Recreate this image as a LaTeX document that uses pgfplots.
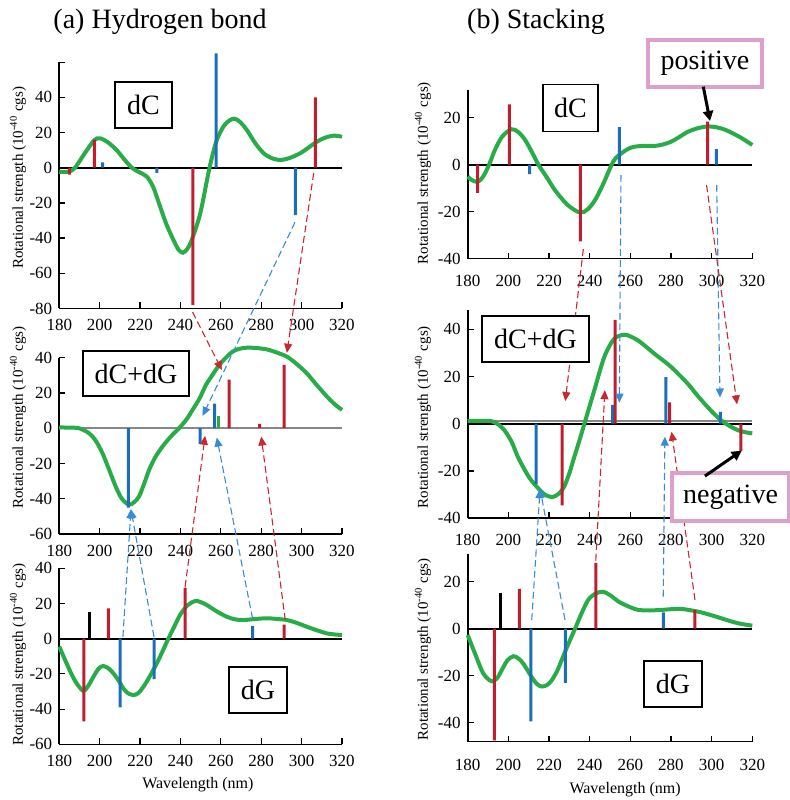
\documentclass[border=0pt]{standalone}
\usepackage{fontspec}
\setmainfont{Liberation Serif}
\usepackage{pgfplots}
\pgfplotsset{compat=1.18}
\usetikzlibrary{arrows.meta}

\definecolor{cred}{RGB}{190,30,45}
\definecolor{cblue}{RGB}{28,110,185}
\definecolor{cdblue}{RGB}{55,140,215}
\definecolor{cdred}{RGB}{200,40,50}
\definecolor{cgreen}{RGB}{40,172,72}
\definecolor{cpink}{RGB}{220,160,202}
\definecolor{cgray}{RGB}{135,135,135}

\pgfplotsset{
  cd/.style={
    scale only axis, anchor=south west,
    xmin=180, xmax=320,
    axis x line*=bottom, axis y line*=left,
    axis line style={-, line width=0.8pt},
    tick align=inside, major tick length=3pt,
    tick style={line width=0.6pt, black},
    xtick={180,200,...,320},
    clip=false,
    tick label style={font=\fontsize{8.5}{9}\selectfont},
    /pgf/number format/assume math mode=true,
    ylabel={Rotational strength (10\textsuperscript{-40} cgs)},
    ylabel style={font=\fontsize{7.5}{8}\selectfont, anchor=center, rotate=0},
  },
  curve/.style={cgreen, line width=2pt, smooth, no marks},
  stk/.style={ybar, bar width=1.5pt, bar shift=0pt, draw=none, fill=#1},
  zl/.style={no marks, line width=1pt, #1},
}
\tikzset{
  darr/.style={dash pattern=on 3.5pt off 1.8pt, line width=0.55pt, -{Triangle[length=4.5pt,width=4pt]}},
  lab/.style={draw, fill=white, line width=0.6pt, inner sep=0pt, font=\fontsize{14}{14}\selectfont},
}

\begin{document}
\begin{tikzpicture}
\useasboundingbox (0,0) rectangle (395pt,400pt);

% ---------- (a) Hydrogen bond: dC
\begin{axis}[cd, at={(29.65pt,245.75pt)}, width=141.35pt, height=123.2pt,
  ymin=-80, ymax=60, ytick={-80,-60,...,60},
  yticklabels={-80,-60,-40,-20,0,20,40,{}},
  xticklabel style={yshift=-2pt},
  ylabel style={at={(axis description cs:-0.146,0.53)}}]
\addplot[zl=black] coordinates {(180,0) (320,0)};
\addplot[curve] coordinates {
(180,-2.3)(184.5,-2.3)(187.8,0)(192.6,8.2)(197.4,15.7)(200.2,16.7)(204,14.5)
(208.4,10)(212,5)(215.9,0)(219.5,-2.5)(223.3,-5)(226.5,-11)(229.9,-22)
(233,-32)(236.5,-41)(239,-46.5)(241.2,-48.3)(243.5,-46)(245.6,-41)(249.8,-26)
(254.4,0)(258,15.7)(262,24.5)(266.3,27.9)(269.5,26)(272.9,21.4)(277,14)
(281.2,8.2)(285,5.5)(289.4,4.4)(294,5.5)(299.3,8.2)(303.5,11.5)(307.6,14.8)
(311.5,17)(315.9,18.2)(320,17.6)};
\addplot[stk=cred] coordinates {(185,-4)(197.4,16)(246.1,-78)(306.8,40)};
\addplot[stk=cblue] coordinates {(201.4,3)(228.3,-3)(257.7,65)(296.9,-27)};
\coordinate (r1s) at (axis cs:246,-82);
\coordinate (b1s) at (axis cs:296.7,-31);
\coordinate (r2s) at (axis cs:306,-3);
\end{axis}

% ---------- (a) dC+dG
\begin{axis}[cd, at={(29.65pt,133pt)}, width=141.35pt, height=88.15pt,
  ymin=-60, ymax=40, ytick={-60,-40,...,40},
  xticklabel style={yshift=-2pt},
  ylabel style={at={(axis description cs:-0.146,0.66)}}]
\addplot[zl=cgray] coordinates {(180,0) (320,0)};
\addplot[curve] coordinates {
(180,0.5)(185,0.3)(189.7,0)(194.7,-2.8)(198,-7)(201.3,-14)(204.5,-23)
(207.9,-33)(211,-40)(214.5,-43.4)(217,-42)(219.5,-38.7)(222,-31.5)(224.5,-23.6)
(227.5,-16.5)(231.1,-10.4)(235,-5)(239.3,0)(243,5)(246,10.4)(249.5,17)
(252.6,24.5)(256,30.5)(259.2,35.8)(262.5,40)(265.8,43.4)(269,45)(272.9,45.7)
(277.5,45.5)(282.8,44.7)(287.5,43)(292.7,40.6)(297.5,36.5)(302.6,31.1)
(307.5,24.5)(312.6,17.9)(316.5,13.5)(320,10.4)};
\addplot[stk=cblue] coordinates {(214.2,-45)(249.8,-9)(256.9,14)};
\addplot[stk=cgreen] coordinates {(258.9,7)};
\addplot[stk=cred] coordinates {(264.1,27.5)(279.2,2.5)(291.4,36)};
\coordinate (r1e) at (axis cs:260.5,33);
\coordinate (b1e) at (axis cs:251,7);
\coordinate (r2e) at (axis cs:292.7,42.8);
\coordinate (b2e) at (axis cs:215.5,-46);
\coordinate (r3e) at (axis cs:252.2,-4.3);
\coordinate (b4e) at (axis cs:258,-5.3);
\coordinate (r4e) at (axis cs:280,-4.7);
\end{axis}

% ---------- (a) dG
\begin{axis}[cd, at={(29.65pt,27.85pt)}, width=141.35pt, height=88pt,
  ymin=-60, ymax=40, ytick={-60,-40,...,40},
  xticklabel style={yshift=-2pt},
  ylabel style={at={(axis description cs:-0.146,0.51)}},
  xlabel={Wavelength (nm)},
  xlabel style={font=\fontsize{8}{9}\selectfont, at={(axis description cs:0.49,-0.231)}, anchor=center}]
\addplot[zl=black] coordinates {(180,0) (320,0)};
\addplot[curve] coordinates {
(180,-4.5)(183.6,-14)(186,-20)(188.6,-25.4)(191.9,-29.6)(194.5,-26.5)
(196.9,-21.6)(199.5,-17)(201.8,-15.5)(204.5,-17)(206.8,-19.7)(209.5,-24)
(211.7,-28.2)(214,-31)(216.7,-32)(219,-31)(221.7,-27.3)(225,-21)(228.3,-14)
(231,-7.5)(234,0)(237,7)(239.8,13.5)(243.5,19)(247.3,21.4)(250,20.8)
(253.1,19.1)(258,15.5)(262.9,12.5)(267,11)(271.2,10.6)(277,11.2)(282.8,11.6)
(288,11.2)(292.7,10.6)(297.5,9)(302.6,6.8)(307.5,4.8)(312.6,3)(316.5,2.4)(320,2.1)};
\addplot[stk=cred] coordinates {(192.2,-47)(204.3,17.3)(242.3,29)(291.4,8)};
\addplot[stk=black] coordinates {(194.9,15.2)};
\addplot[stk=cblue] coordinates {(210.1,-39)(226.9,-23)(275.7,7.2)};
\coordinate (b2s) at (axis cs:211.5,1);
\coordinate (b3s) at (axis cs:226.9,1);
\coordinate (r3s) at (axis cs:242.3,29.5);
\coordinate (b4s) at (axis cs:275.7,11.5);
\coordinate (r4s) at (axis cs:291.9,10.6);
\end{axis}

% ---------- (b) Stacking: dC
\begin{axis}[cd, at={(233.85pt,270.65pt)}, width=142.3pt, height=84.6pt,
  ymin=-40, ymax=32, ytick={-40,-20,0,20},
  xticklabel style={yshift=-4.5pt},
  ylabel style={at={(axis description cs:-0.157,0.506)}}]
\addplot[zl=black] coordinates {(180,0) (320,0)};
\addplot[curve] coordinates {
(180,-5.1)(182,-6.5)(184.4,-7.3)(186.5,-6.3)(188.5,-3.7)(191,1)(193.4,6.3)
(197,12)(201.6,15.1)(205,13.8)(208.2,10.6)(211.5,5.5)(214.8,0)(219,-5.5)
(223,-10.9)(229,-17)(235.2,-20.4)(239,-19)(242.6,-15.1)(246.5,-8.5)(250.8,0)
(253,3)(255.7,4.9)(259,6.8)(262.3,7.7)(267,8)(272.1,8)(276,8.6)(280.3,9.9)
(284.5,12)(288.5,14.1)(293.5,15.6)(298.4,16.3)(302.5,15.9)(306.6,14.9)
(310.5,13.3)(314.8,11.3)(320,8.4)};
\addplot[stk=cred] coordinates {(184.9,-12)(200.5,25.7)(235.4,-32.6)(298,18.3)};
\addplot[stk=cblue] coordinates {(210.5,-4)(254.6,16)(302.3,6.6)};
\coordinate (r5s) at (axis cs:236.9,-35.9);
\coordinate (b5s) at (axis cs:255.4,-4.4);
\coordinate (b6s) at (axis cs:302.5,-8.7);
\coordinate (r6s) at (axis cs:297.5,-8.7);
\coordinate (ps) at (axis cs:295.9,33.2);
\coordinate (pe) at (axis cs:299.2,18.6);
\end{axis}

% ---------- (b) dC+dG
\begin{axis}[cd, at={(233.85pt,140.95pt)}, width=142.3pt, height=103.85pt,
  ymin=-40, ymax=48, ytick={-40,-20,...,40},
  xticklabel style={yshift=-4.5pt},
  ylabel style={at={(axis description cs:-0.157,0.486)}}]
\addplot[zl=cgray] coordinates {(180,1.2) (320,1.2)};
\addplot[zl=black] coordinates {(180,0) (320,0)};
\addplot[curve] coordinates {
(180,1.1)(185,1.2)(191.5,1.1)(195,-0.3)(198,-2.7)(201.5,-7.5)(204.6,-13.9)
(208,-19.5)(211.1,-23.8)(216.1,-28.7)(218.5,-30.3)(221.8,-31.1)(225,-29.5)
(227.5,-26.6)(230,-21)(232.5,-13.9)(235,-7)(237.4,0)(242.3,14.2)(247.2,28.3)
(252.1,36)(257,37.7)(260,37)(263.6,35.4)(267.5,32.8)(271.8,29.7)(280,24.1)
(288.2,17)(292,13)(296.4,8.6)(300.5,4.8)(304.6,1.5)(308.5,-0.8)(312.8,-2.7)
(316.5,-3.6)(320,-4.1)};
\addplot[stk=cblue] coordinates {(213.6,-25.5)(251.3,8)(277.5,19.7)(304.3,5)};
\addplot[stk=cred] coordinates {(226.4,-34.6)(252.5,44)(279.3,9)(314.4,-11.5)};
\coordinate (r5e) at (axis cs:228,9.6);
\coordinate (b5e) at (axis cs:254.6,8.9);
\coordinate (b6e) at (axis cs:304.1,11.1);
\coordinate (r6e) at (axis cs:312.5,8.2);
\coordinate (b7e) at (axis cs:215.6,-27.7);
\coordinate (r7e) at (axis cs:247.5,14.2);
\coordinate (b9e) at (axis cs:277,-5.5);
\coordinate (r8e) at (axis cs:280.3,-3.4);
\coordinate (ns) at (axis cs:296.7,-22.2);
\coordinate (ne) at (axis cs:314.8,-11.4);
\end{axis}

% ---------- (b) dG
\begin{axis}[cd, at={(233.85pt,29.25pt)}, width=142.3pt, height=94pt,
  ymin=-48, ymax=32, ytick={-40,-20,0,20},
  xticklabel style={yshift=-5.5pt},
  ylabel style={at={(axis description cs:-0.157,0.49)}},
  xlabel={Wavelength (nm)},
  xlabel style={font=\fontsize{8}{9}\selectfont, at={(axis description cs:0.553,-0.254)}, anchor=center}]
\addplot[zl=black] coordinates {(180,0) (320,0)};
\addplot[curve] coordinates {
(180,-2.7)(183.6,-10.6)(187.7,-19.1)(191.8,-22.4)(194.5,-21)(196.7,-17.7)
(199.5,-13.5)(202.5,-11.7)(205,-12.7)(207.4,-14.9)(211.5,-20.6)(214,-23.5)
(216.4,-24.6)(219,-24)(221.3,-22)(224,-18)(226.2,-13.4)(229.5,-6.5)(232.8,0)
(236,6.5)(239.3,12.3)(243,15)(246.7,15.7)(250.5,14)(254.1,11.6)(259,9.5)
(263.9,8)(270,7.8)(275.4,8)(280,8.3)(285.2,8.4)(290,7.8)(295.1,6.9)(300,5.7)
(304.9,4.4)(310,3)(314.8,2)(320,1.3)};
\addplot[stk=cred] coordinates {(193.1,-47.5)(205.4,17)(243,28)(291.8,8)};
\addplot[stk=black] coordinates {(196.1,15)};
\addplot[stk=cblue] coordinates {(211.1,-39.4)(228,-23)(276.2,7)};
\coordinate (b7s) at (axis cs:211.5,3.7);
\coordinate (b8s) at (axis cs:227.9,3.7);
\coordinate (r7s) at (axis cs:243,29);
\coordinate (b9s) at (axis cs:276.2,13.7);
\coordinate (r8s) at (axis cs:291.8,12.3);
\end{axis}

% ---------- dashed arrows, left column
\draw[darr, cdred] (r1s) -- (r1e);
\draw[darr, cdblue] (b1s) -- (b1e);
\draw[darr, cdred] (r2s) -- (r2e);
\draw[darr, cdblue] (b2s) -- (b2e);
\draw[darr, cdblue] (b3s) -- (b2e);
\draw[darr, cdred] (r3s) -- (r3e);
\draw[darr, cdblue] (b4s) -- (b4e);
\draw[darr, cdred] (r4s) -- (r4e);
% ---------- dashed arrows, right column
\draw[darr, cdred] (r5s) -- (r5e);
\draw[darr, cdblue] (b5s) -- (b5e);
\draw[darr, cdblue] (b6s) -- (b6e);
\draw[darr, cdred] (r6s) -- (r6e);
\draw[darr, cdblue] (b7s) -- (b7e);
\draw[darr, cdblue] (b8s) -- (b7e);
\draw[darr, cdred] (r7s) -- (r7e);
\draw[darr, cdblue] (b9s) -- (b9e);
\draw[darr, cdred] (r8s) -- (r8e);

% ---------- labels
\node[font=\fontsize{14}{14}\selectfont] at (80pt,389pt) {(a) Hydrogen bond};
\node[font=\fontsize{14}{14}\selectfont] at (268pt,389pt) {(b) Stacking};
\node[lab, minimum width=28.5pt, minimum height=23pt] at (71.75pt,347.5pt) {dC};
\node[lab, minimum width=53pt, minimum height=22.5pt] at (68pt,213.25pt) {dC+dG};
\node[lab, minimum width=29pt, minimum height=23pt] at (129pt,55pt) {dG};
\node[lab, minimum width=27.5pt, minimum height=23.5pt] at (285.25pt,346pt) {dC};
\node[lab, minimum width=53.5pt, minimum height=23pt] at (267.75pt,230.5pt) {dC+dG};
\node[lab, minimum width=29pt, minimum height=23pt] at (336.5pt,58pt) {dG};
\node[lab, draw=cpink, line width=1.8pt, minimum width=57pt, minimum height=23.5pt] at (352.5pt,368.25pt) {positive};
\node[lab, draw=cpink, line width=1.8pt, minimum width=58.5pt, minimum height=24pt] at (365.25pt,151.5pt) {negative};
\draw[line width=1.5pt, -{Triangle[length=5pt,width=5pt]}] (ps) -- (pe);
\draw[line width=1.5pt, -{Triangle[length=5pt,width=5pt]}] (ns) -- (ne);
\end{tikzpicture}
\end{document}
